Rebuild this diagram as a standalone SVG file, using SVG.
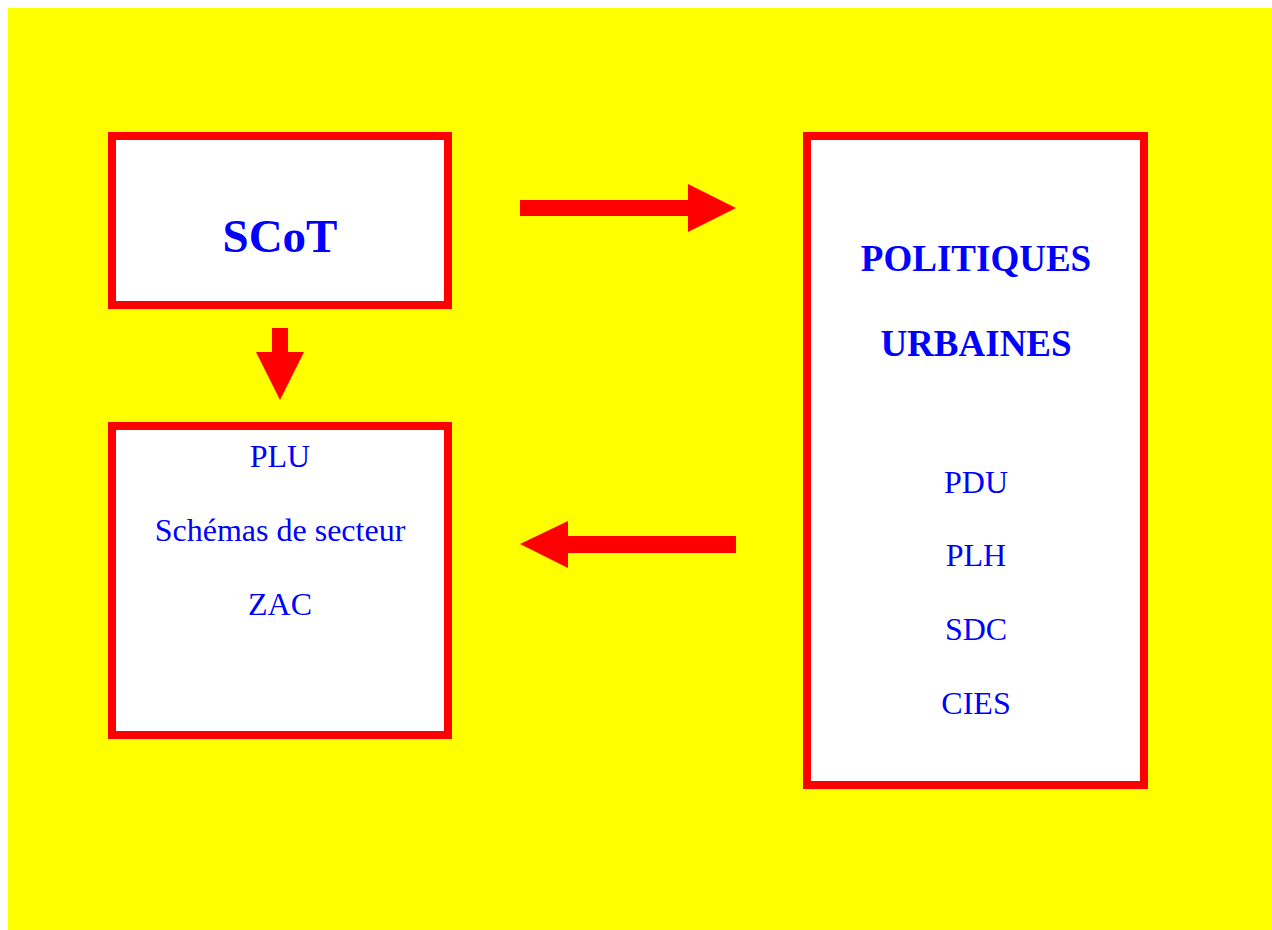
<svg xmlns="http://www.w3.org/2000/svg" width="1272" height="930" viewBox="0 0 1272 930">
<style>
.box{fill:#fff;stroke:#f00;stroke-width:8}
.t{font-family:"Liberation Serif",serif;fill:#00f;text-anchor:middle}
.b{font-weight:bold}
.n{font-size:32px}
.arr{fill:#f00}
</style>
<rect x="0" y="0" width="1272" height="930" fill="#fff"/>
<rect x="8" y="8" width="1264" height="922" fill="#ff0"/>
<g id="scot">
<rect class="box" x="112" y="136" width="336" height="169"/>
<text class="t b" x="280" y="252" font-size="47">SCoT</text>
</g>
<g id="plu">
<rect class="box" x="112" y="426" width="336" height="309"/>
<text class="t n" x="280" y="467">PLU</text>
<text class="t n" x="280" y="541">Schémas de secteur</text>
<text class="t n" x="280" y="615">ZAC</text>
</g>
<g id="politiques">
<rect class="box" x="807" y="136" width="337" height="649"/>
<text class="t b" x="976" y="271" font-size="37">POLITIQUES</text>
<text class="t b" x="976" y="356" font-size="37">URBAINES</text>
<text class="t n" x="976" y="493">PDU</text>
<text class="t n" x="976" y="566">PLH</text>
<text class="t n" x="976" y="640">SDC</text>
<text class="t n" x="976" y="714">CIES</text>
</g>
<g id="connectors">
<polygon class="arr" points="520,200 688,200 688,184 736,208 688,232 688,216 520,216"/>
<polygon class="arr" points="272,328 288,328 288,352 304,352 280,400 256,352 272,352"/>
<polygon class="arr" points="736,536 568,536 568,521 520,544 568,568 568,553 736,553"/>
</g>
</svg>
